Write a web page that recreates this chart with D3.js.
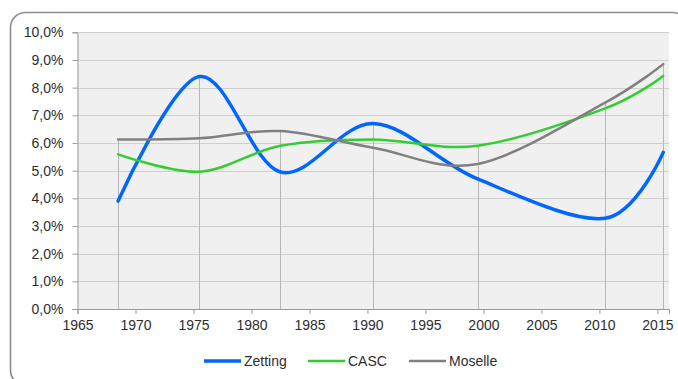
<!DOCTYPE html>
<html>
<head>
<meta charset="utf-8">
<script src="https://cdn.jsdelivr.net/npm/d3@7"></script>
<style>
  html, body { margin: 0; padding: 0; background: #fff; overflow: hidden; }
  svg { display: block; font-family: "Liberation Sans", Arial, sans-serif; }
</style>
</head>
<body>
<svg id="chart" width="678" height="379"></svg>
<script>
// Census years and annual growth rates (share, 0.05 = 5 %)
const years = [1968, 1975, 1982, 1990, 1999, 2010, 2015];
const zetting = [0.039, 0.084, 0.0495, 0.067, 0.047, 0.0328, 0.0566];
const casc    = [0.0559, 0.0496, 0.059, 0.0613, 0.059, 0.0725, 0.0842];
const moselle = [0.0613, 0.0617, 0.0643, 0.0583, 0.0524, 0.0746, 0.0885];

const seriesNames  = ["Zetting", "CASC", "Moselle"];
const seriesValues = [zetting, casc, moselle];
const seriesColors = ["#0066ff", "#33cc33", "#808080"];
const seriesWidths = [3.5, 2.5, 2.5];

const xTicks = [1965, 1970, 1975, 1980, 1985, 1990, 1995, 2000, 2005, 2010, 2015];
const yTicks = [0, 0.01, 0.02, 0.03, 0.04, 0.05, 0.06, 0.07, 0.08, 0.09, 0.10];

const svg = d3.select("#chart");

// outer frame (runs past the right and bottom edges of the canvas)
svg.append("rect")
  .attr("x", 10.5).attr("y", 12.5)
  .attr("width", 677).attr("height", 373)
  .attr("rx", 15).attr("ry", 15)
  .attr("fill", "#fff")
  .attr("stroke", "#8c8c8c")
  .attr("stroke-width", 1.6);

const plot = { left: 77.5, right: 669, top: 32.3, bottom: 309 };

const x = d3.scaleLinear().domain([1965, 2016]).range([plot.left, plot.right]);
const y = d3.scaleLinear().domain([0, 0.10]).range([plot.bottom, plot.top]);

// census points sit at mid-year
const xPos = yr => x(yr + 0.5);

// plot background
svg.append("rect")
  .attr("x", plot.left).attr("y", plot.top)
  .attr("width", plot.right - plot.left)
  .attr("height", plot.bottom - plot.top)
  .attr("fill", "#f0f0f0");

// horizontal gridlines
svg.append("g")
  .selectAll("line")
  .data(yTicks.slice(1))
  .join("line")
  .attr("x1", plot.left).attr("x2", plot.right)
  .attr("y1", d => Math.round(y(d)) + 0.5)
  .attr("y2", d => Math.round(y(d)) + 0.5)
  .attr("stroke", "#cfcfcf")
  .attr("stroke-width", 1);

// drop lines from the highest value of each year down to the axis
svg.append("g")
  .selectAll("line")
  .data(years.map((yr, i) => ({ yr, top: d3.max(seriesValues, s => s[i]) })))
  .join("line")
  .attr("x1", d => Math.round(xPos(d.yr)) + 0.5)
  .attr("x2", d => Math.round(xPos(d.yr)) + 0.5)
  .attr("y1", d => y(d.top))
  .attr("y2", plot.bottom)
  .attr("stroke", "#b8b8b8")
  .attr("stroke-width", 1);

// y axis
const yAxis = d3.axisLeft(y)
  .tickValues(yTicks)
  .tickSize(5)
  .tickPadding(9)
  .tickFormat(d => d3.format(".1f")(d * 100).replace(".", ",") + "%");

const gy = svg.append("g")
  .attr("transform", `translate(${plot.left},0)`)
  .call(yAxis);
gy.select(".domain").attr("stroke", "#9a9a9a");
gy.selectAll(".tick line").attr("stroke", "#9a9a9a");
gy.selectAll(".tick text")
  .attr("fill", "#2e2e2e")
  .style("font-size", "14px")
  .style("font-family", "Liberation Sans, Arial, sans-serif");

// x axis
const xAxis = d3.axisBottom(x)
  .tickValues(xTicks)
  .tickSize(5)
  .tickPadding(6)
  .tickFormat(d3.format("d"));

const gx = svg.append("g")
  .attr("transform", `translate(0,${plot.bottom})`)
  .call(xAxis);
gx.select(".domain").attr("stroke", "#9a9a9a");
gx.selectAll(".tick line").attr("stroke", "#9a9a9a");
gx.selectAll(".tick text")
  .attr("fill", "#2e2e2e")
  .style("font-size", "14px")
  .style("font-family", "Liberation Sans, Arial, sans-serif");

// smoothed series lines
const line = d3.line()
  .x((d, i) => xPos(years[i]))
  .y(d => y(d))
  .curve(d3.curveCardinal.tension(0));

seriesValues.forEach((vals, k) => {
  svg.append("path")
    .datum(vals)
    .attr("fill", "none")
    .attr("stroke", seriesColors[k])
    .attr("stroke-width", seriesWidths[k])
    .attr("stroke-linecap", "round")
    .attr("stroke-linejoin", "round")
    .attr("d", line);
});

// legend
const legendX = [204, 308, 409];
const legend = svg.append("g").attr("transform", "translate(0,361)");
seriesNames.forEach((name, k) => {
  const g = legend.append("g").attr("transform", `translate(${legendX[k]},0)`);
  g.append("line")
    .attr("x1", 0).attr("x2", 37)
    .attr("y1", 0).attr("y2", 0)
    .attr("stroke", seriesColors[k])
    .attr("stroke-width", seriesWidths[k]);
  g.append("text")
    .attr("x", 40)
    .attr("y", 0)
    .attr("dy", "0.36em")
    .attr("fill", "#2e2e2e")
    .style("font-size", "14px")
    .text(name);
});
</script>
</body>
</html>
